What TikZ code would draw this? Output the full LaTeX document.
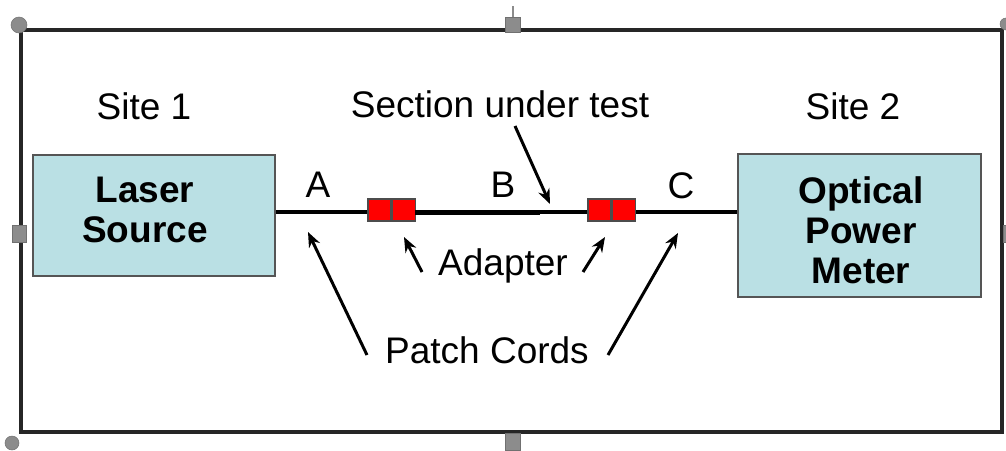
\documentclass[tikz,border=0pt]{standalone}
\usepackage{fontspec}
\setmainfont{Liberation Sans}
\definecolor{boxfill}{HTML}{BAE0E4}
\definecolor{boxedge}{HTML}{555555}
\definecolor{handle}{HTML}{8C8C8C}
\tikzset{
  device/.style={draw=boxedge, line width=2pt, fill=boxfill, inner sep=0pt},
  lbl/.style={font=\fontsize{37}{40}\selectfont, inner sep=0pt, anchor=base},
  blbl/.style={font=\fontsize{37}{40}\selectfont\bfseries, inner sep=0pt, align=center},
  fiber/.style={line width=4pt},
  half/.style={draw=black!70, line width=1.5pt, fill=red, minimum width=23pt, minimum height=22pt, inner sep=0pt},
  pointer/.style={line width=3pt, -{Stealth[length=15pt, width=12pt]}},
  hnd/.style={fill=handle, draw=handle!80!black, line width=0.5pt},
}
\usetikzlibrary{arrows.meta}
\begin{document}
\begin{tikzpicture}[x=1pt, y=-1pt]
\useasboundingbox (0,0) rectangle (1006,450);
% frame
\draw[line width=4pt, black!85] (21,30) rectangle (1002,432);
% selection handles
\draw[handle, line width=1.5pt] (513,6) -- (513,17);
\filldraw[hnd] (19,25) circle (8);
\filldraw[hnd] (505,17) rectangle (520,32);
\filldraw[hnd] (12,225) rectangle (26,242);
\filldraw[hnd] (505,433) rectangle (520,450);
\filldraw[hnd] (12,443) circle (7);
\filldraw[hnd] (1006,24) circle (6);
\filldraw[hnd] (1003,225) rectangle (1010,242);
% devices
\node[device, minimum width=242pt, minimum height=121pt] (laser) at (154,215.5) {};
\node[device, minimum width=243pt, minimum height=143pt] (opm) at (859.5,225.5) {};
\node[blbl] (lasertxt) at (145,210) {Laser\\Source};
\node[blbl] (opmtxt) at (861,230) {Optical\\Power\\Meter};
% adapters
\node[half] (a1l) at (379.5,210) {};
\node[half, anchor=west] (a1r) at (a1l.east) {};
\node[half] (a2l) at (599.5,210) {};
\node[half, anchor=west] (a2r) at (a2l.east) {};
% fiber
\draw[fiber] (laser.east |- 0,212) -- (a1l.west |- 0,212);
\draw[fiber] (a1r.east |- 0,212) -- (a2l.west |- 0,212);
\draw[line width=5pt] (415,212) -- (540,212);
\draw[fiber] (a2r.east |- 0,212) -- (opm.west |- 0,212);
% labels
\node[lbl] (site1) at (144,119) {Site 1};
\node[lbl] (site2) at (853,119) {Site 2};
\node[lbl] (sut) at (500,117) {Section under test};
\node[lbl] (la) at (318,197) {A};
\node[lbl] (lb) at (503,197) {B};
\node[lbl] (lc) at (681,198) {C};
\node[lbl] (adapter) at (503,275) {Adapter};
\node[lbl] (patch) at (487,363) {Patch Cords};
% pointers
\coordinate (sutT) at (515,126);
\coordinate (sutH) at (550,204);
\draw[pointer] (sutT) -- (sutH);
\coordinate (adLT) at (422,272);
\coordinate (adLH) at (404,237);
\coordinate (adRT) at (583,272);
\coordinate (adRH) at (605,237);
\draw[pointer] (adLT) -- (adLH);
\draw[pointer] (adRT) -- (adRH);
\coordinate (pcLT) at (367,355);
\coordinate (pcLH) at (308,232);
\coordinate (pcRT) at (608,355);
\coordinate (pcRH) at (678,233);
\draw[pointer] (pcLT) -- (pcLH);
\draw[pointer] (pcRT) -- (pcRH);
\end{tikzpicture}
\end{document}
